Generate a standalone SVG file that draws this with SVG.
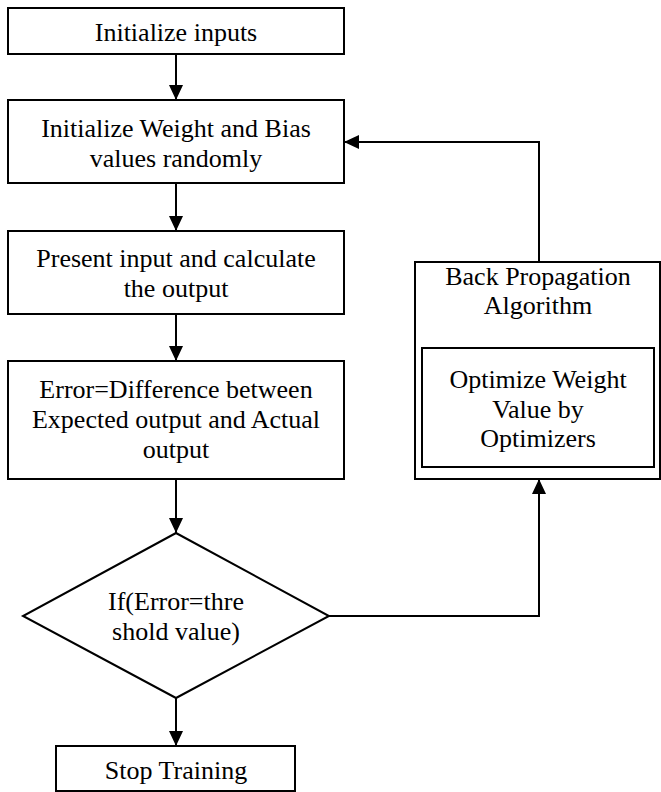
<svg xmlns="http://www.w3.org/2000/svg" width="661" height="792" viewBox="0 0 661 792">
<defs>
<style>
.box{fill:#fff;stroke:#000;stroke-width:2}
.t{font-size:26px;fill:#000;text-anchor:middle}
.c{fill:none;stroke:#000;stroke-width:2}
</style>
<marker id="ah" markerUnits="userSpaceOnUse" markerWidth="16" markerHeight="16" viewBox="0 0 16 16" refX="15" refY="8" orient="auto">
<path d="M0,1 L15,8 L0,15 Z" fill="#000"/>
</marker>
</defs>
<rect width="661" height="792" fill="#fff"/>
<g id="connectors">
<line class="c" x1="176" y1="54" x2="176" y2="100" marker-end="url(#ah)"/>
<line class="c" x1="176" y1="183" x2="176" y2="231" marker-end="url(#ah)"/>
<line class="c" x1="176" y1="314" x2="176" y2="361" marker-end="url(#ah)"/>
<line class="c" x1="176" y1="479" x2="176" y2="533" marker-end="url(#ah)"/>
<line class="c" x1="176" y1="698" x2="176" y2="746" marker-end="url(#ah)"/>
<polyline class="c" points="329,616 539,616 539,479" marker-end="url(#ah)"/>
<polyline class="c" points="539,262 539,142 344,142" marker-end="url(#ah)"/>
</g>
<g font-family="Liberation Serif, Tinos, Times New Roman, DejaVu Serif, serif">
<g id="n1">
<rect class="box" x="8" y="8" width="336" height="46"/>
<text class="t" x="176" y="41">Initialize inputs</text>
</g>
<g id="n2">
<rect class="box" x="8" y="100" width="336" height="83"/>
<text class="t" x="176" y="137">Initialize Weight and Bias</text>
<text class="t" x="176" y="167">values randomly</text>
</g>
<g id="n3">
<rect class="box" x="8" y="231" width="336" height="83"/>
<text class="t" x="176" y="267">Present input and calculate</text>
<text class="t" x="176" y="297">the output</text>
</g>
<g id="n4">
<rect class="box" x="8" y="361" width="336" height="118"/>
<text class="t" x="176" y="398">Error=Difference between</text>
<text class="t" x="176" y="428">Expected output and Actual</text>
<text class="t" x="176" y="458">output</text>
</g>
<g id="n5">
<polygon class="box" points="176,533 329,616 176,698 23,616"/>
<text class="t" x="176" y="610">If(Error=thre</text>
<text class="t" x="176" y="640">shold value)</text>
</g>
<g id="n6">
<rect class="box" x="56" y="746" width="239" height="45"/>
<text class="t" x="176" y="779">Stop Training</text>
</g>
<g id="n7">
<rect class="box" x="415" y="262" width="245" height="217"/>
<text class="t" x="538" y="285">Back Propagation</text>
<text class="t" x="538" y="314">Algorithm</text>
<g id="n8">
<rect class="box" x="422" y="348" width="232" height="119"/>
<text class="t" x="538" y="388">Optimize Weight</text>
<text class="t" x="538" y="418">Value by</text>
<text class="t" x="538" y="447">Optimizers</text>
</g>
</g>
</g>
</svg>
